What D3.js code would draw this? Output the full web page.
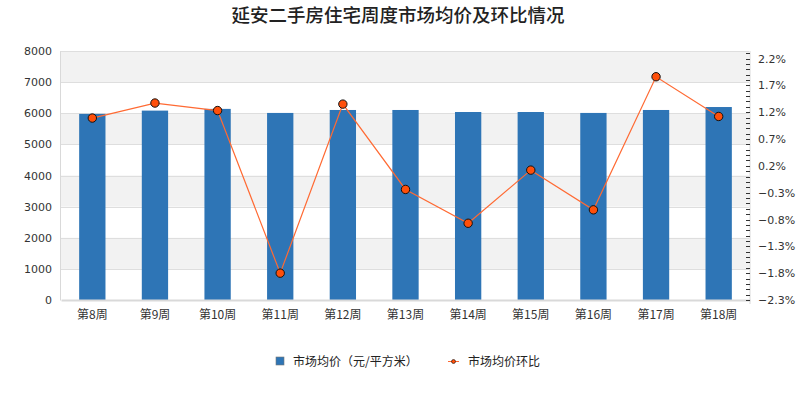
<!DOCTYPE html>
<html><head><meta charset="utf-8">
<script src="https://cdn.jsdelivr.net/npm/d3@7"></script>
<style>body{margin:0;background:#fff}svg{display:block}</style>
</head><body>
<script>
const title = "延安二手房住宅周度市场均价及环比情况";
const categories = ["第8周","第9周","第10周","第11周","第12周","第13周","第14周","第15周","第16周","第17周","第18周"];
const prices = [5980,6085,6140,6010,6105,6105,6040,6040,6010,6105,6200];
const changes = [1.09,1.37,1.23,-1.80,1.35,-0.24,-0.87,0.12,-0.62,1.86,1.12];
const leftTicks = [0,1000,2000,3000,4000,5000,6000,7000,8000];
const rightTicks = [-2.3,-1.8,-1.3,-0.8,-0.3,0.2,0.7,1.2,1.7,2.2];
const legendLabels = ["市场均价（元/平方米）","市场均价环比"];

const W=800,H=400, L=60, R=749, T=51, B=300;
const svg = d3.select("body").append("svg").attr("width",W).attr("height",H);

const x = d3.scaleBand().domain(categories).range([L+1,R+1]).paddingInner(0.58).paddingOuter(0.29);
const y = d3.scaleLinear().domain([0,8000]).range([B,T]);
const y2 = d3.scaleLinear().domain([-2.3,2.2]).range([B,58.5]);

// bands
const g = svg.append("g");
for (let i=0;i<leftTicks.length-1;i++){
  if (i%2===1) g.append("rect").attr("x",L).attr("width",R-L)
     .attr("y",y(leftTicks[i+1])).attr("height",y(leftTicks[i])-y(leftTicks[i+1])).attr("fill","#f2f2f2");
}
g.selectAll("line.grid").data(leftTicks.slice(1)).join("line")
  .attr("x1",L).attr("x2",R).attr("y1",d=>Math.round(y(d))+0.5).attr("y2",d=>Math.round(y(d))+0.5)
  .attr("stroke","#dedede").attr("stroke-width",1);

// left axis
const ax = svg.append("g").attr("transform",`translate(${L},0)`)
  .call(d3.axisLeft(y).tickValues(leftTicks).tickSize(0).tickPadding(8).tickFormat(d3.format("d")));
ax.select(".domain").attr("stroke","#d9d9d9");
ax.selectAll("text").attr("font-family","DejaVu Sans").attr("font-size",11).attr("fill","#333");

// bars
svg.append("g").selectAll("rect").data(prices).join("rect")
  .attr("x",(d,i)=>x(categories[i])).attr("width",x.bandwidth())
  .attr("y",d=>y(d)).attr("height",d=>B-y(d)).attr("fill","#2e75b6");

// x axis
const xa = svg.append("g").attr("transform",`translate(0,${B})`)
  .call(d3.axisBottom(x).tickSize(0).tickPadding(10));
xa.select(".domain").attr("stroke","#d9d9d9").attr("stroke-width",2);
xa.selectAll("text").attr("font-family","Noto Sans CJK SC").attr("font-size",12).attr("fill","#333");

// right axis
const minor = d3.range(-23,24).map(v=>v/10);
const ra = svg.append("g").attr("transform",`translate(${R+1},0)`);
ra.append("line").attr("x1",0).attr("x2",0).attr("y1",T).attr("y2",B+4).attr("stroke","#d9d9d9");
ra.selectAll("line.mn").data(minor).join("line").attr("class","mn")
  .attr("x1",-4).attr("x2",0).attr("y1",d=>Math.round(y2(d))+0.5).attr("y2",d=>Math.round(y2(d))+0.5)
  .attr("stroke","#333");
ra.call(g2=>g2.append("g").call(d3.axisRight(y2).tickValues(rightTicks).tickSize(0).tickPadding(8)
   .tickFormat(d=>d3.format(".1f")(d)+"%")))
  .selectAll("text").attr("font-family","DejaVu Sans").attr("font-size",11).attr("fill","#333");
ra.selectAll(".domain").remove();

// line
const cx = (i)=>x(categories[i])+x.bandwidth()/2;
svg.append("path").datum(changes)
  .attr("d",d3.line().x((d,i)=>cx(i)).y(d=>y2(d)))
  .attr("fill","none").attr("stroke","#ff6a33").attr("stroke-width",1.2);
svg.append("g").selectAll("circle").data(changes).join("circle")
  .attr("cx",(d,i)=>cx(i)).attr("cy",d=>y2(d)).attr("r",4.2)
  .attr("fill","#ff4f0a").attr("stroke","#111").attr("stroke-width",1);

// title
svg.append("text").attr("x",398).attr("y",22).attr("text-anchor","middle")
  .attr("font-family","Noto Sans CJK SC").attr("font-weight",500).attr("font-size",18.5).attr("fill","#222").text(title);

// legend
const lg = svg.append("g");
lg.append("rect").attr("x",276).attr("y",357).attr("width",8).attr("height",8).attr("fill","#2e75b6").attr("stroke","#777").attr("stroke-width",0.6);
lg.append("text").attr("x",293).attr("y",366).attr("font-family","Noto Sans CJK SC").attr("font-size",12).attr("fill","#222").text(legendLabels[0]);
lg.append("line").attr("x1",448).attr("x2",459).attr("y1",361.5).attr("y2",361.5).attr("stroke","#ff6a33").attr("stroke-width",1);
lg.append("circle").attr("cx",453.5).attr("cy",361.5).attr("r",2).attr("fill","#ff4f0a").attr("stroke","#111").attr("stroke-width",0.6);
lg.append("text").attr("x",468).attr("y",366).attr("font-family","Noto Sans CJK SC").attr("font-size",12).attr("fill","#222").text(legendLabels[1]);
</script>
</body></html>
